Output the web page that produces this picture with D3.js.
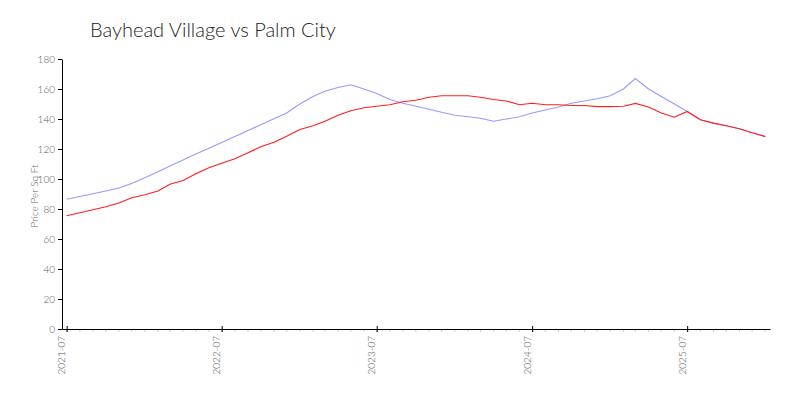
<!DOCTYPE html>
<html><head><meta charset="utf-8">
<script src="https://cdn.jsdelivr.net/npm/d3@7"></script>
<style>
body{margin:0;background:#fff;}
svg text{font-family:Lato,"Open Sans",sans-serif;font-weight:300;}
</style></head>
<body><svg id="c" width="800" height="400"></svg>
<script>
const startMonth = "2021-07";
const tickLabels = ["2021-07","2022-07","2023-07","2024-07","2025-07"];
const yTicks = [0,20,40,60,80,100,120,140,160,180];
const seriesNames = ["Bayhead Village","Palm City"];
const palmCity = [75.5,77.5,79.5,81.5,84,87.5,89.5,92,96.5,99,103.5,107.5,110.5,113.5,117.5,121.5,124.5,128.5,133,135.5,138.5,142.5,145.5,147.5,148.5,149.5,151.5,152.5,154.5,155.5,155.5,155.5,154.5,153,152,149.5,150.5,149.5,149.5,149,149,148.3,148.2,148.5,150.4,148,144,141.2,145,139.5,137.2,135.5,133.5,130.8,128.3];
const bayhead = [86.5,88.3,90.2,92,94,97,100.9,104.8,108.7,112.7,116.6,120.5,124.4,128.3,132.3,136.2,140.1,144,150,155,158.5,161,162.8,160,157,153,150.5,148.5,146.5,144.5,142.5,141.5,140.5,138.5,140,141.5,144,146,148,150.5,152,153.5,155.5,160,167,160,155,150,145,139.5,137.2,135.5,133.5,130.8,128.3];

const parse = d3.timeParse("%Y-%m");
const t0 = parse(startMonth);
const dates = bayhead.map((_, i) => d3.timeMonth.offset(t0, i));

const svg = d3.select("#c");
const x = d3.scaleTime()
  .domain([d3.timeDay.offset(t0, -11), d3.timeDay.offset(dates[dates.length-1], 11)])
  .range([62, 770]);
const y = d3.scaleLinear().domain([0,180]).range([329,59]);

// title
svg.append("text").attr("x", 90).attr("y", 37).attr("font-size", 20).attr("fill", "#222")
  .text(seriesNames[0] + " vs " + seriesNames[1]);

// y label
svg.append("text").attr("transform", "translate(38,196) rotate(-90)")
  .attr("text-anchor","middle").attr("font-size", 10).attr("fill","#666").text("Price Per Sq Ft");

// y axis
const ya = svg.append("g").attr("transform","translate(62,0)")
  .call(d3.axisLeft(y).tickValues(yTicks).tickSize(4).tickSizeOuter(0));
ya.select(".domain").attr("stroke","#000");
ya.selectAll("text").attr("font-size",10).attr("fill","#555");

// x minor ticks
const minor = d3.timeMonth.range(t0, d3.timeDay.offset(dates[dates.length-1], 2));
svg.append("g").selectAll("line").data(minor).join("line")
  .attr("x1", d=>x(d)).attr("x2", d=>x(d)).attr("y1", 329).attr("y2", 332)
  .attr("stroke","#ccc");

// x axis
const majors = tickLabels.map(parse);
const xa = svg.append("g").attr("transform","translate(0,329)")
  .call(d3.axisBottom(x).tickValues(majors).tickFormat(d3.timeFormat("%Y-%m")).tickSize(3).tickSizeOuter(0));
xa.select(".domain").attr("stroke","#000");
xa.selectAll(".tick line").attr("y1",-3).attr("y2",3).attr("stroke","#000");
xa.selectAll("text").attr("font-size",10).attr("fill","#555")
  .attr("transform","rotate(-90)").attr("text-anchor","end")
  .attr("x",-7).attr("y",-5).attr("dy","0.32em");

// lines
const line = d3.line().x((d,i)=>x(dates[i])).y(d=>y(d));
svg.append("path").datum(bayhead).attr("d", line).attr("fill","none")
  .attr("stroke","#9999ff").attr("stroke-width",1.1);
svg.append("path").datum(palmCity).attr("d", line).attr("fill","none")
  .attr("stroke","#ff2020").attr("stroke-width",1.2);
</script></body></html>
